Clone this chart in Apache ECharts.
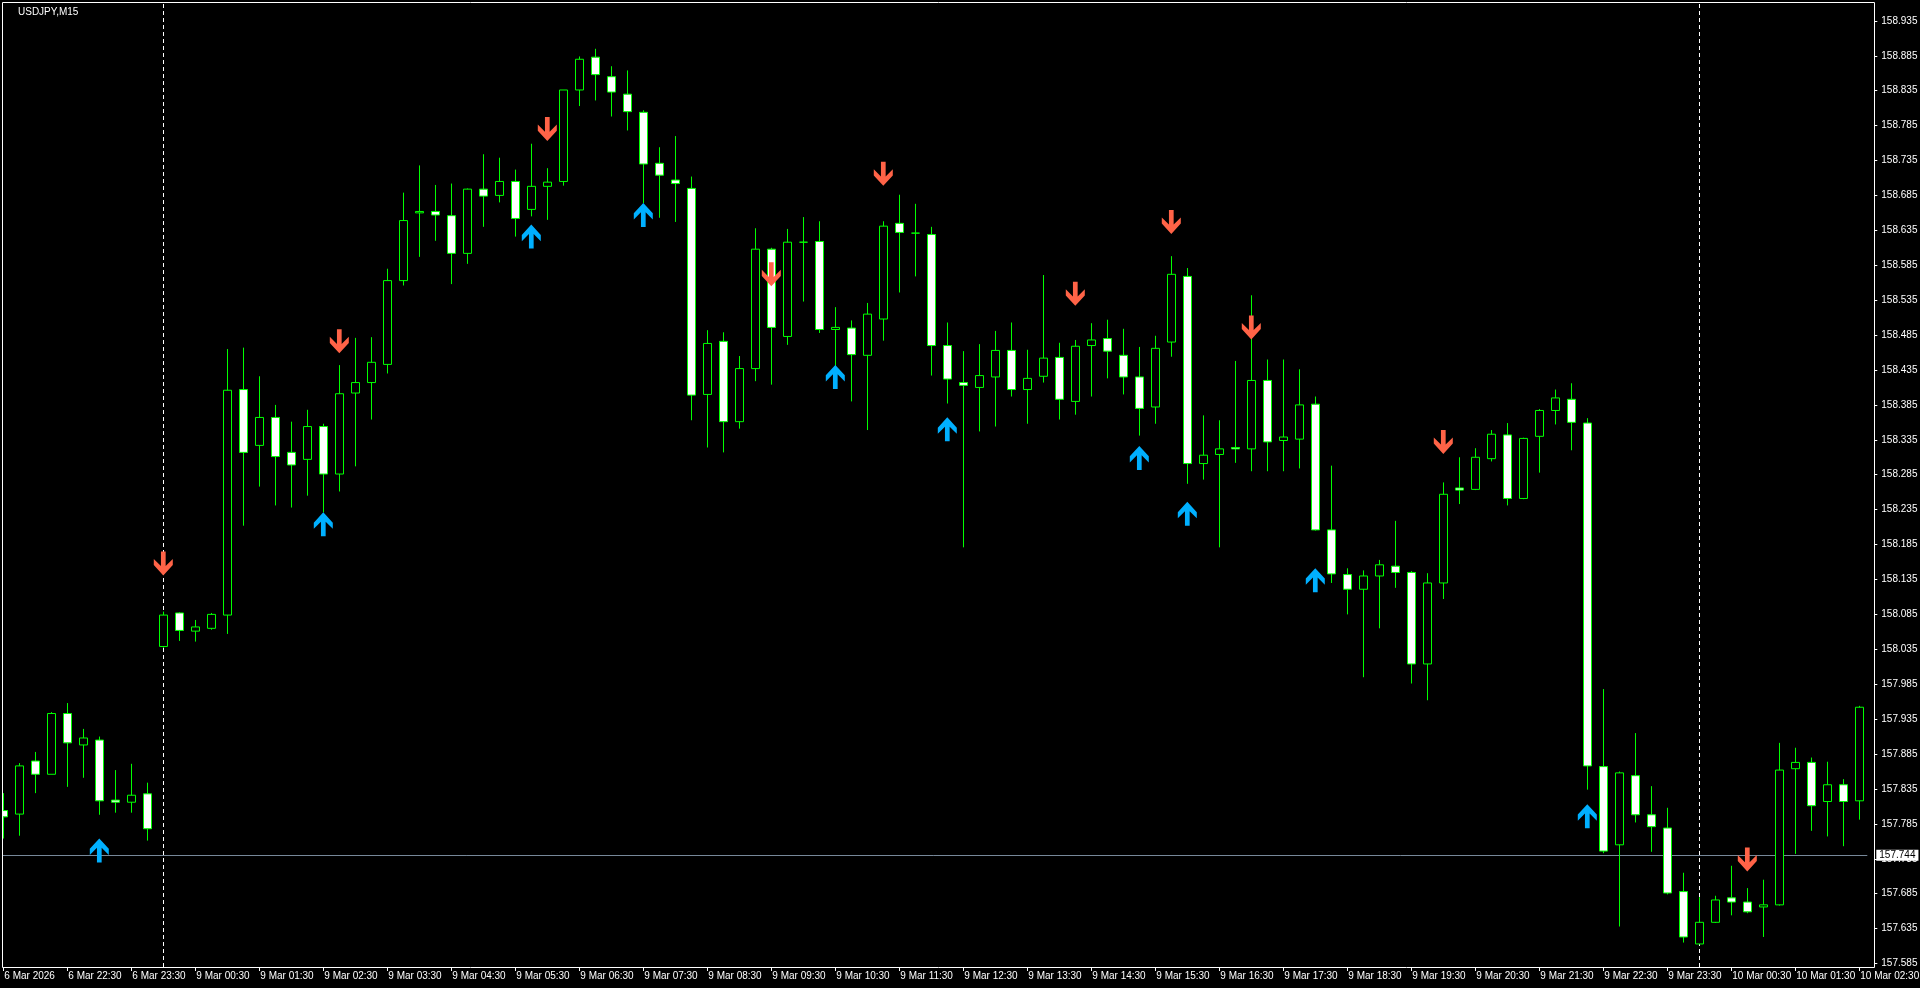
<!DOCTYPE html>
<html><head><meta charset="utf-8">
<script src="https://cdn.jsdelivr.net/npm/echarts@6/dist/echarts.min.js"></script>
<style>html,body{margin:0;padding:0;background:#000;overflow:hidden}#c{width:1920px;height:988px;}</style>
</head><body><div id="c"></div>
<script>
const symbolTitle = 'USDJPY,M15';
const firstLabel = '6 Mar 2026';
const times = [
'6 Mar 21:30','6 Mar 21:45','6 Mar 22:00','6 Mar 22:15','6 Mar 22:30','6 Mar 22:45','6 Mar 23:00','6 Mar 23:15','6 Mar 23:30','6 Mar 23:45',
'9 Mar 00:00','9 Mar 00:15','9 Mar 00:30','9 Mar 00:45','9 Mar 01:00','9 Mar 01:15','9 Mar 01:30','9 Mar 01:45',
'9 Mar 02:00','9 Mar 02:15','9 Mar 02:30','9 Mar 02:45','9 Mar 03:00','9 Mar 03:15','9 Mar 03:30','9 Mar 03:45',
'9 Mar 04:00','9 Mar 04:15','9 Mar 04:30','9 Mar 04:45','9 Mar 05:00','9 Mar 05:15','9 Mar 05:30','9 Mar 05:45',
'9 Mar 06:00','9 Mar 06:15','9 Mar 06:30','9 Mar 06:45','9 Mar 07:00','9 Mar 07:15','9 Mar 07:30','9 Mar 07:45',
'9 Mar 08:00','9 Mar 08:15','9 Mar 08:30','9 Mar 08:45','9 Mar 09:00','9 Mar 09:15','9 Mar 09:30','9 Mar 09:45',
'9 Mar 10:00','9 Mar 10:15','9 Mar 10:30','9 Mar 10:45','9 Mar 11:00','9 Mar 11:15','9 Mar 11:30','9 Mar 11:45',
'9 Mar 12:00','9 Mar 12:15','9 Mar 12:30','9 Mar 12:45','9 Mar 13:00','9 Mar 13:15','9 Mar 13:30','9 Mar 13:45',
'9 Mar 14:00','9 Mar 14:15','9 Mar 14:30','9 Mar 14:45','9 Mar 15:00','9 Mar 15:15','9 Mar 15:30','9 Mar 15:45',
'9 Mar 16:00','9 Mar 16:15','9 Mar 16:30','9 Mar 16:45','9 Mar 17:00','9 Mar 17:15','9 Mar 17:30','9 Mar 17:45',
'9 Mar 18:00','9 Mar 18:15','9 Mar 18:30','9 Mar 18:45','9 Mar 19:00','9 Mar 19:15','9 Mar 19:30','9 Mar 19:45',
'9 Mar 20:00','9 Mar 20:15','9 Mar 20:30','9 Mar 20:45','9 Mar 21:00','9 Mar 21:15','9 Mar 21:30','9 Mar 21:45',
'9 Mar 22:00','9 Mar 22:15','9 Mar 22:30','9 Mar 22:45','9 Mar 23:00','9 Mar 23:15','9 Mar 23:30','9 Mar 23:45',
'10 Mar 00:00','10 Mar 00:15','10 Mar 00:30','10 Mar 00:45','10 Mar 01:00','10 Mar 01:15','10 Mar 01:30','10 Mar 01:45',
'10 Mar 02:00','10 Mar 02:15','10 Mar 02:30'
];
const opens = [
157.804,157.799,157.875,157.856,157.943,157.898,157.905,157.819,157.816,157.828,
158.039,158.087,158.061,158.065,158.084,158.407,158.327,158.367,158.317,158.307,
158.354,158.286,158.402,158.417,158.443,158.563,158.660,158.662,158.656,158.602,
158.694,158.685,158.705,158.665,158.698,158.705,158.836,158.883,158.855,158.830,
158.804,158.731,158.707,158.695,158.400,158.476,158.361,158.437,158.608,158.483,
158.618,158.619,158.493,158.495,158.456,158.508,158.645,158.631,158.629,158.470,
158.417,158.410,158.425,158.463,158.407,158.426,158.453,158.390,158.470,158.480,
158.456,158.425,158.382,158.475,158.569,158.301,158.314,158.324,158.322,158.420,
158.334,158.336,158.386,158.206,158.142,158.121,158.140,158.154,158.145,158.014,
158.130,158.266,158.264,158.308,158.342,158.251,158.340,158.377,158.393,158.359,
157.867,157.755,157.854,157.798,157.779,157.688,157.613,157.644,157.679,157.673,
157.666,157.669,157.864,157.873,157.817,157.841,157.818
];
const closes = [
157.795,157.868,157.856,157.943,157.901,157.908,157.818,157.816,157.826,157.778,
158.084,158.062,158.067,158.085,158.406,158.317,158.367,158.311,158.299,158.354,
158.286,158.401,158.417,158.446,158.563,158.649,158.662,158.657,158.602,158.694,
158.684,158.705,158.652,158.698,158.704,158.836,158.880,158.858,158.833,158.805,
158.730,158.714,158.702,158.399,158.473,158.361,158.437,158.608,158.496,158.618,
158.618,158.493,158.496,158.457,158.515,158.641,158.632,158.631,158.470,158.422,
158.413,158.427,158.463,158.407,158.423,158.452,158.393,158.469,158.478,158.462,
158.425,158.380,158.466,158.572,158.301,158.313,158.322,158.322,158.420,158.332,
158.339,158.385,158.206,158.143,158.121,158.140,158.156,158.145,158.014,158.130,
158.257,158.263,158.310,158.343,158.251,158.337,158.377,158.395,158.360,157.868,
157.746,157.858,157.798,157.781,157.686,157.623,157.644,157.676,157.673,157.659,
157.669,157.862,157.873,157.811,157.841,157.817,157.952
];
const lows = [
157.764,157.768,157.829,157.856,157.838,157.851,157.798,157.801,157.801,157.761,
158.037,158.047,158.046,158.063,158.057,158.212,158.268,158.241,158.238,158.255,
158.231,158.261,158.297,158.364,158.430,158.556,158.597,158.620,158.558,158.587,
158.640,158.675,158.626,158.655,158.650,158.699,158.813,158.821,158.798,158.778,
158.674,158.653,158.647,158.363,158.324,158.317,158.351,158.419,158.414,158.471,
158.533,158.488,158.440,158.390,158.349,158.477,158.546,158.569,158.427,158.387,
158.181,158.347,158.354,158.397,158.358,158.417,158.364,158.371,158.397,158.423,
158.400,158.341,158.358,158.454,158.272,158.278,158.181,158.302,158.290,158.290,
158.290,158.294,158.205,158.130,158.085,157.995,158.065,158.123,157.986,157.962,
158.107,158.243,158.263,158.304,158.241,158.250,158.288,158.357,158.320,157.834,
157.743,157.638,157.787,157.745,157.684,157.615,157.613,157.643,157.654,157.657,
157.623,157.668,157.742,157.775,157.767,157.753,157.791
];
const highs = [
157.829,157.872,157.888,157.945,157.958,157.921,157.910,157.862,157.871,157.844,
158.089,158.088,158.077,158.087,158.465,158.467,158.426,158.385,158.361,158.378,
158.358,158.442,158.481,158.482,158.580,158.689,158.728,158.700,158.702,158.695,
158.744,158.739,158.722,158.759,158.724,158.836,158.884,158.895,158.870,158.864,
158.807,158.754,158.770,158.712,158.492,158.489,158.455,158.638,158.610,158.637,
158.654,158.648,158.525,158.506,158.531,158.648,158.686,158.673,158.640,158.503,
158.462,158.472,158.491,158.503,158.464,158.571,158.474,158.478,158.502,158.507,
158.494,158.468,158.484,158.598,158.581,158.370,158.363,158.448,158.542,158.450,
158.450,158.436,158.397,158.298,158.151,158.148,158.163,158.219,158.147,158.144,
158.274,158.310,158.323,158.349,158.359,158.338,158.379,158.407,158.416,158.366,
157.978,157.860,157.915,157.839,157.808,157.715,157.680,157.682,157.725,157.693,
157.705,157.901,157.894,157.880,157.874,157.849,157.954
];
const yTicks = [157.585,157.635,157.685,157.735,157.785,157.835,157.885,157.935,157.985,158.035,
158.085,158.135,158.185,158.235,158.285,158.335,158.385,158.435,158.485,158.535,
158.585,158.635,158.685,158.735,158.785,158.835,158.885,158.935];
const daySeparators = ['9 Mar 00:00','10 Mar 00:00'];
const bidPrice = 157.744;
const sellIdx = [10,21,34,48,55,67,73,78,90,109];
const sellPrice = [158.158,158.476,158.780,158.572,158.716,158.544,158.647,158.496,158.332,157.734];
const buyIdx = [6,20,33,40,52,59,71,74,82,99];
const buyPrice = [157.747,158.214,158.626,158.657,158.425,158.350,158.309,158.229,158.134,157.796];

const FONT = "'Liberation Sans', Arial, sans-serif";
const downArrow = 'path://M-2.3,-11.7L2.3,-11.7L2.3,2.6L9.3,-4.4L9.3,1.6L0,11.7L-9.3,1.6L-9.3,-4.4L-2.3,2.6Z';
const upArrow = 'path://M-2.3,11.7L2.3,11.7L2.3,-2.6L9.3,4.4L9.3,-1.6L0,-11.7L-9.3,-1.6L-9.3,4.4L-2.3,-2.6Z';

const candleData = opens.map((o, i) => [o, closes[i], lows[i], highs[i]]);
const sellData = sellIdx.map((x, i) => [x, sellPrice[i]]);
const buyData = buyIdx.map((x, i) => [x, buyPrice[i]]);

const chart = echarts.init(document.getElementById('c'), null, {renderer: 'canvas'});
chart.setOption({
  backgroundColor: '#000',
  animation: false,
  title: {
    text: symbolTitle, left: 18, top: 7, padding: 0,
    textStyle: {color: '#fff', fontSize: 10, fontWeight: 'normal', fontFamily: FONT}
  },
  grid: {left: -4.7, right: 52.7, top: 2, bottom: 21, containLabel: false, outerBoundsMode: 'none', show: false},
  xAxis: {
    type: 'category', data: times, boundaryGap: true,
    axisLine: {show: false},
    axisTick: {show: true, alignWithLabel: true, interval: 3, length: 4, lineStyle: {color: '#fff', width: 1}},
    axisLabel: {
      show: true, interval: 3, color: '#fff', fontSize: 10, fontFamily: FONT,
      align: 'left', margin: 4, padding: [0, 0, 0, 1], hideOverlap: false,
      formatter: (v, i) => i === 0 ? firstLabel : v
    },
    splitLine: {show: false}
  },
  yAxis: {
    type: 'value', position: 'right', min: 157.580, max: 158.962, offset: 7, scale: true,
    splitLine: {show: false},
    axisLine: {show: false},
    axisTick: {show: true, length: 3, lineStyle: {color: '#fff'}, customValues: yTicks},
    axisLabel: {show: true, color: '#fff', fontSize: 10, fontFamily: FONT, margin: 7,
      customValues: yTicks, formatter: v => Number(v).toFixed(3)}
  },
  series: [
    {
      type: 'candlestick', data: candleData, barWidth: 9, z: 3,
      itemStyle: {color: '#000', color0: '#fff', borderColor: '#00ff00', borderColor0: '#00ff00', borderWidth: 1},
      markLine: {
        silent: true, symbol: ['none', 'none'], animation: false, z: 1,
        data: [
          {xAxis: daySeparators[0], lineStyle: {color: '#fff', type: [4, 3], width: 1}, label: {show: false}},
          {xAxis: daySeparators[1], lineStyle: {color: '#fff', type: [4, 3], width: 1}, label: {show: false}},
          {yAxis: bidPrice, lineStyle: {color: '#778899', type: 'solid', width: 1},
           label: {show: true, position: 'end', distance: 9, formatter: bidPrice.toFixed(3), color: '#000',
             backgroundColor: '#fff', padding: [1, 3, 0, 3], fontSize: 10, fontFamily: FONT}}
        ]
      }
    },
    {
      type: 'scatter', name: 'sell', data: sellData, symbol: downArrow, symbolSize: [19, 24], symbolKeepAspect: false,
      itemStyle: {color: '#ff6347', opacity: 1}, z: 5, silent: true
    },
    {
      type: 'scatter', name: 'buy', data: buyData, symbol: upArrow, symbolSize: [19, 24], symbolKeepAspect: false,
      itemStyle: {color: '#00b0ff', opacity: 1}, z: 5, silent: true
    }
  ],
  graphic: [
    {type: 'rect', shape: {x: 0, y: 0, width: 2.5, height: 988}, style: {fill: '#000'}, z: 99, silent: true},
    {type: 'rect', shape: {x: 2.5, y: 2.5, width: 1872, height: 965}, style: {fill: 'none', stroke: '#fff', lineWidth: 1}, z: 100, silent: true}
  ]
});
</script>
</body></html>
